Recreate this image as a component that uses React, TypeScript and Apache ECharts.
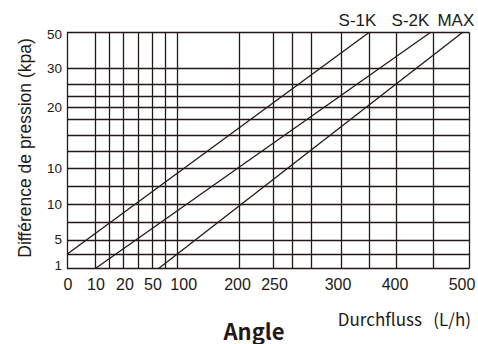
import React, { useEffect, useRef } from 'react';
import * as echarts from 'echarts';

// Chart is drawn on a position scale (units along each axis); grid lines and labels are positioned on it.
const xGridLines = [0, 28, 42, 56.3, 71.3, 85.3, 98.3, 110.3, 172, 206.3, 225.3, 244.7, 274.7, 302.3, 329.7, 366.3, 402.3];
const yGridLines = [0, 14.4, 28.7, 46.4, 64.4, 82, 100.7, 117, 133.7, 149.4, 161.4, 172.7, 184.7, 200.4, 236.4];
const xTickLabels = ['0', '10', '20', '50', '100', '200', '250', '300', '400', '500'];
const xTickPos = [1, 29, 58, 86, 116.7, 170.5, 207.5, 271, 328, 395];
const yTickLabels = ['1', '5', '10', '10', '20', '30', '50'];
const yTickPos = [3.7, 29.7, 64.4, 100.7, 161.4, 200.4, 234.5];
const seriesNames = ['S-1K', 'S-2K', 'MAX'];
const s1k = [[0, 14.4], [302.3, 236.4]];
const s2k = [[28, 0], [363.7, 236.4]];
const sMax = [[91.3, 0], [395.7, 236.4]];

const INK = '#231815';

export default function App() {
  const ref = useRef<HTMLDivElement>(null);
  useEffect(() => {
    if (!ref.current) return;
    const chart = echarts.init(ref.current, null, { renderer: 'svg' });
    const lookup = (pos: number[], labels: string[]) => (v: number) => {
      const i = pos.findIndex((p) => Math.abs(p - v) < 1e-6);
      return i >= 0 ? labels[i] : '';
    };
    const lineStyle = { color: INK, width: 1.3, type: 'solid' as const };
    const seriesData = [s1k, s2k, sMax];
    chart.setOption({
      animation: false,
      backgroundColor: '#ffffff',
      grid: { left: 67, top: 32.3, width: 402.3, height: 236.4, outerBoundsMode: 'none' },
      xAxis: {
        type: 'value',
        min: 0,
        max: 402.3,
        axisLine: { show: false },
        axisTick: { show: false },
        splitLine: { show: false },
        axisLabel: {
          customValues: xTickPos,
          formatter: lookup(xTickPos, xTickLabels),
          fontSize: 16,
          fontFamily: 'Liberation Sans',
          color: INK,
          margin: 8,
          hideOverlap: false,
        },
      },
      yAxis: {
        type: 'value',
        min: 0,
        max: 236.4,
        axisLine: { show: false },
        axisTick: { show: false },
        splitLine: { show: false },
        axisLabel: {
          customValues: yTickPos,
          formatter: lookup(yTickPos, yTickLabels),
          fontSize: 13.5,
          fontFamily: 'Liberation Sans',
          color: INK,
          margin: 5,
          hideOverlap: false,
        },
      },
      series: seriesData.map((d, i) => ({
        type: 'line',
        name: seriesNames[i],
        data: d,
        symbol: 'none',
        lineStyle: { color: INK, width: 1.3 },
        silent: true,
        z: 3,
        markLine:
          i === 0
            ? {
                silent: true,
                symbol: 'none',
                label: { show: false },
                lineStyle,
                z: 2,
                data: [
                  ...xGridLines.map((v) => ({ xAxis: v })),
                  ...yGridLines.map((v) => ({ yAxis: v })),
                ],
              }
            : undefined,
      })),
      graphic: [
        ...seriesNames.map((n, i) => ({
          type: 'text',
          x: [357.5, 410.5, 455.8][i],
          y: 20.5,
          style: {
            text: n,
            fontSize: 17,
            fontFamily: 'Liberation Sans',
            fill: INK,
            textAlign: 'center',
            textVerticalAlign: 'middle',
          },
        })),
        {
          type: 'text',
          x: 25,
          y: 148,
          rotation: Math.PI / 2,
          style: {
            text: 'Différence de pression (kpa)',
            fontSize: 17.5,
            fontFamily: 'Liberation Sans',
            fill: INK,
            textAlign: 'center',
            textVerticalAlign: 'middle',
          },
        },
        {
          type: 'text',
          x: 471,
          y: 318.5,
          style: {
            text: 'Durchfluss   (L/h)',
            fontSize: 17,
            fontFamily: 'Noto Sans CJK SC',
            fill: INK,
            textAlign: 'right',
            textVerticalAlign: 'middle',
          },
        },
        {
          type: 'text',
          x: 254,
          y: 329.5,
          style: {
            text: 'Angle',
            fontSize: 22,
            fontWeight: 'bold',
            fontFamily: 'Noto Sans CJK SC',
            fill: INK,
            textAlign: 'center',
            textVerticalAlign: 'middle',
          },
        },
      ],
    });
    return () => chart.dispose();
  }, []);
  return (
    <div
      ref={ref}
      style={{ position: 'fixed', left: 0, top: 0, width: 478, height: 344, background: '#fff' }}
    />
  );
}
